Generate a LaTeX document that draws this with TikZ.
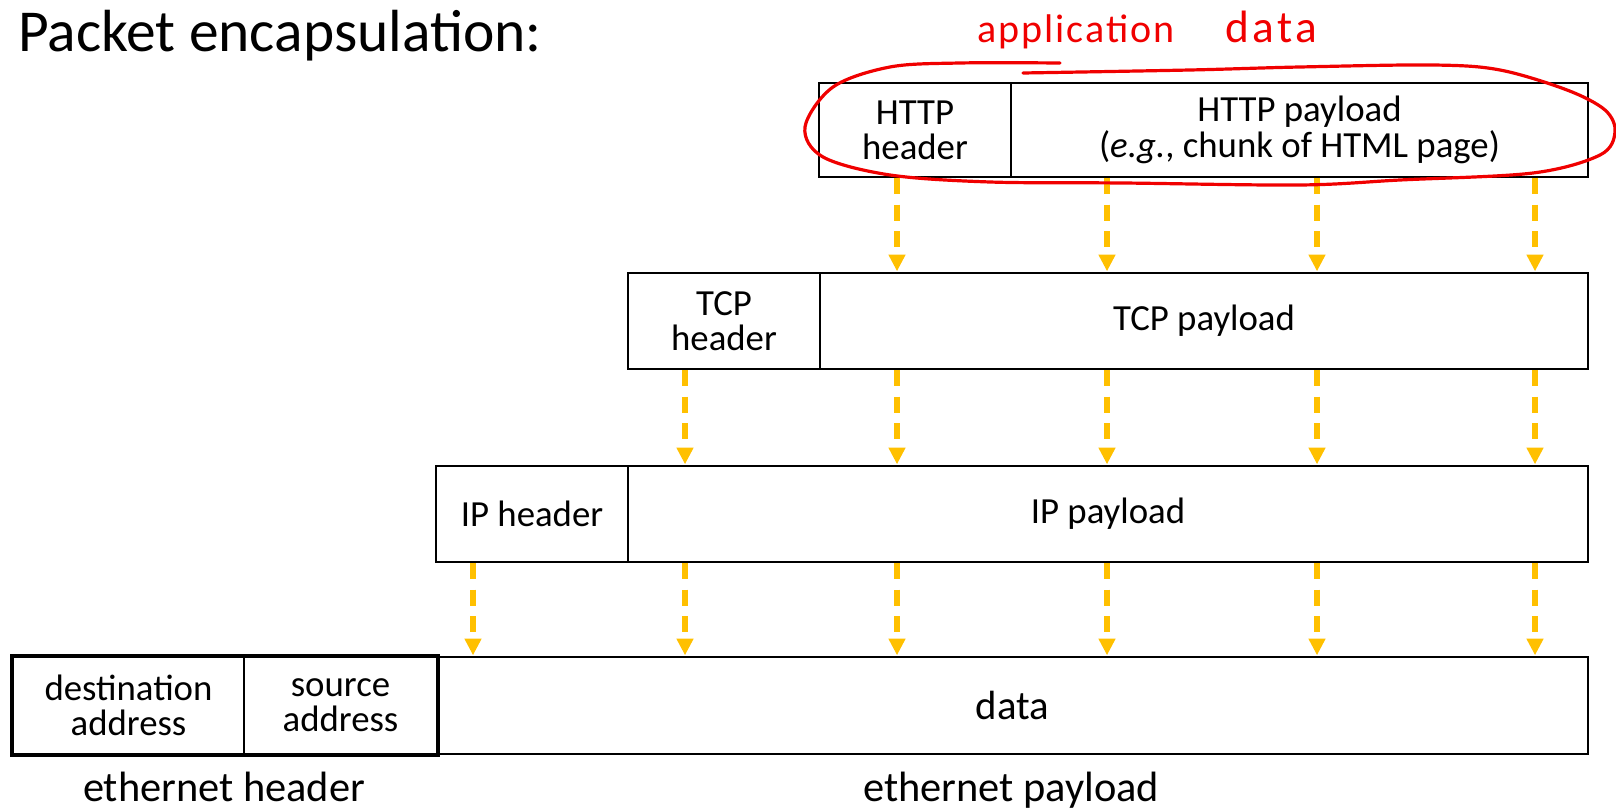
\documentclass[tikz,border=0pt]{standalone}
\usepackage{fontspec}
\setmainfont{Carlito}
\usetikzlibrary{arrows.meta}
\definecolor{amber}{HTML}{FFC000}
\definecolor{hand}{HTML}{F00000}
\tikzset{
  cell/.style={draw=black, line width=1.5pt, inner sep=0pt, align=center, anchor=north west,
    font=\fontsize{27.6}{26.5}\selectfont},
  flow/.style={draw=amber, line width=4pt, dash pattern=on 12pt off 8pt,
    -{Triangle[width=12pt,length=12.5pt]}, shorten >=0.5pt},
  lab/.style={inner sep=0pt, anchor=base, font=\fontsize{31.8}{34}\selectfont},
}
\begin{document}
\begin{tikzpicture}[x=0.75pt,y=-0.75pt]
\useasboundingbox (0,0) rectangle (1616,809);
% title
\node[inner sep=0pt, anchor=base west, font=\fontsize{44.6}{46}\selectfont] (title) at (18,52) {Packet encapsulation:};
% HTTP layer
\node[cell, minimum width=144pt, minimum height=70.5pt] (hh) at (818,82) {HTTP\\header};
\node[cell, minimum width=432.75pt, minimum height=70.5pt] (hp) at (1010,82) {HTTP payload\\(\emph{e.g.}, chunk of HTML page)};
% TCP layer
\node[cell, minimum width=144pt, minimum height=72pt] (th) at (627,272) {TCP\\header};
\node[cell, minimum width=576pt, minimum height=72pt] (tp) at (819,272) {TCP payload};
% IP layer
\node[cell, minimum width=144pt, minimum height=72pt] (ih) at (435,465) {IP header};
\node[cell, minimum width=720pt, minimum height=72pt] (ip) at (627,465) {IP payload};
% Ethernet layer
\node[cell, minimum width=173.25pt, minimum height=72.75pt] (ed) at (12,656) {destination\\address};
\node[cell, minimum width=144.75pt, minimum height=72.75pt] (es) at (243,656) {source\\address};
\node[cell, minimum width=863.25pt, minimum height=72.75pt, font=\fontsize{30.6}{32}\selectfont] (eb) at (436,656) {data};
\draw[line width=3.5pt] (ed.north west) rectangle (es.south east);
\node[lab] (ehl) at (224,801) {ethernet header};
\node[lab] (epl) at (1011,801) {ethernet payload};
% arrows HTTP -> TCP
\foreach \x in {897,1107,1317,1535} \draw[flow] (hh.south -| \x,0) -- (tp.north -| \x,0);
% arrows TCP -> IP
\foreach \x in {685,897,1107,1317,1535} \draw[flow] (th.south -| \x,0) -- (ip.north -| \x,0);
% arrows IP -> Ethernet
\foreach \x in {473,685,897,1107,1317,1535} \draw[flow] (ih.south -| \x,0) -- (eb.north -| \x,0);
% hand annotation
\node[inner sep=0pt, anchor=base west, text=hand, font=\fontsize{30}{32}\selectfont\addfontfeatures{LetterSpace=5}] (appdata) at (977,43) {application\hspace{38pt}{\fontsize{34}{36}\selectfont\addfontfeatures{LetterSpace=8}data}};
\draw[hand, line width=2.4pt, line cap=round, line join=round] plot[smooth, tension=0.55] coordinates {
 (1023,73) (1190,70) (1300,67) (1433,65) (1500,70) (1567,90) (1605,110) (1615,132) (1600,155)
 (1533,173) (1400,180) (1300,185) (1123,183) (990,182) (890,175) (823,157) (805,127) (833,87)
 (890,67) (960,63) (1060,63)};
\end{tikzpicture}
\end{document}
